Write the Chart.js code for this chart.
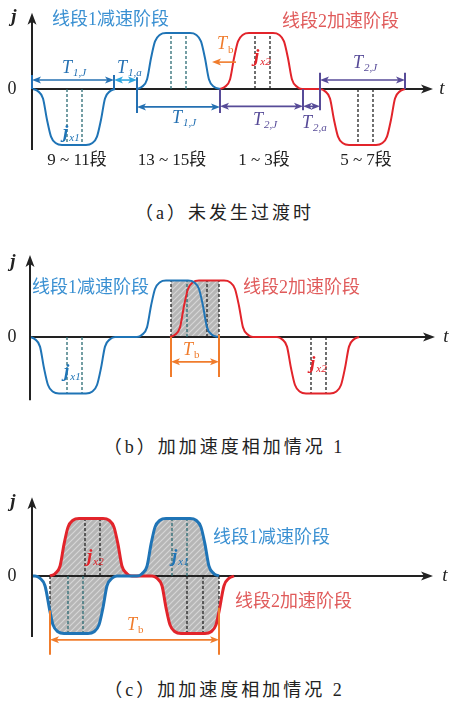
<!DOCTYPE html>
<html>
<head>
<meta charset="utf-8">
<script src="https://cdn.jsdelivr.net/npm/chart.js@4"></script>
<style>
  body { margin: 0; background: #fff; width: 449px; height: 709px; position: relative; overflow: hidden; }
  canvas { position: absolute; left: 0; }
  .caption { position: absolute; left: 0; width: 449px; text-align: center; font: 18px "Liberation Serif", "Noto Sans CJK SC"; letter-spacing: 3px; line-height: 20px; color: #222; }
</style>
</head>
<body>
<canvas id="chartA" width="449" height="180" style="top:0"></canvas>
<div class="caption" style="top:203px">（a）未发生过渡时</div>
<canvas id="chartB" width="449" height="180" style="top:240px"></canvas>
<div class="caption" style="top:437px">（b）加加速度相加情况 1</div>
<canvas id="chartC" width="449" height="180" style="top:480px"></canvas>
<div class="caption" style="top:680px">（c）加加速度相加情况 2</div>

<script>
// jerk profiles, [t, j] pairs, j normalised to the peak jerk

// (a) no transition
const blueA = [
  [1, 0], [6, -0.04], [11, -0.17], [15, -0.55], [19, -0.85], [24, -0.97], [30, -1],
  [54, -1], [60, -0.97], [65, -0.85], [69, -0.55], [73, -0.17], [78, -0.04], [83, 0],
  [94, null],
  [105, 0], [110, 0.04], [115, 0.17], [119, 0.55], [123, 0.85], [128, 0.97], [134, 1],
  [158, 1], [164, 0.97], [169, 0.85], [173, 0.55], [177, 0.17], [182, 0.04], [188, 0]
];
const redA = [
  [188, 0], [193, 0.04], [198, 0.17], [202, 0.55], [206, 0.85], [211, 0.97], [217, 1],
  [241, 1], [247, 0.97], [252, 0.85], [256, 0.55], [260, 0.17], [265, 0.04], [270, 0],
  [288, 0], [293, -0.04], [298, -0.17], [302, -0.55], [306, -0.85], [311, -0.97], [317, -1],
  [344, -1], [350, -0.97], [355, -0.85], [359, -0.55], [363, -0.17], [368, -0.04], [373, 0]
];
const dashBlueA = [[35, -1], [50, -1], [139, 1], [154, 1]];
const dashRedA = [[223, 1], [238, 1], [326, -1], [341, -1]];

// (b) jerk superposition, case 1
const blueB = [
  [0, 0], [5, -0.04], [10, -0.17], [14, -0.55], [18, -0.85], [23, -0.97], [29, -1],
  [56, -1], [62, -0.97], [67, -0.85], [71, -0.55], [75, -0.17], [80, -0.04], [85, 0],
  [107, 0], [112, 0.04], [117, 0.17], [121, 0.55], [125, 0.85], [130, 0.97], [136, 1],
  [158, 1], [164, 0.97], [169, 0.85], [173, 0.55], [177, 0.17], [182, 0.04], [188, 0]
];
const redB = [
  [140, 0], [145, 0.04], [150, 0.17], [154, 0.55], [158, 0.85], [163, 0.97], [169, 1],
  [194, 1], [200, 0.97], [205, 0.85], [209, 0.55], [213, 0.17], [218, 0.04], [223, 0],
  [247, 0], [252, -0.04], [257, -0.17], [261, -0.55], [265, -0.85], [270, -0.97], [276, -1],
  [300, -1], [306, -0.97], [311, -0.85], [315, -0.55], [319, -0.17], [324, -0.04], [329, 0]
];
const shadeB = [[141, 1], [189, 1]];
const dashBlueB = [[37, -1], [52, -1], [157, 1]];
const dashRedB = [[141, 1], [177, 1], [189, 1], [281, -1], [296, -1]];

// (c) jerk superposition, case 2
const blueC = [
  [0, 0], [3, 0], [8, -0.04], [13, -0.17], [18, -0.62], [21, -0.85], [26, -0.97], [32, -1],
  [56, -1], [62, -0.97], [67, -0.85], [71, -0.55], [75, -0.17], [80, -0.04], [85, 0],
  [105, 0], [110, 0.04], [115, 0.17], [119, 0.55], [123, 0.85], [128, 0.97], [134, 1],
  [158, 1], [164, 0.97], [169, 0.85], [173, 0.55], [177, 0.17], [182, 0.04], [187, 0]
];
const redC = [
  [18, 0], [23, 0.04], [28, 0.17], [32, 0.55], [36, 0.85], [41, 0.97], [47, 1],
  [71, 1], [77, 0.97], [82, 0.85], [86, 0.55], [90, 0.17], [95, 0.04], [100, 0],
  [120, 0], [125, -0.04], [130, -0.17], [134, -0.55], [138, -0.85], [143, -0.97], [149, -1],
  [173, -1], [179, -0.97], [184, -0.85], [187, -0.62], [192, -0.17], [197, -0.04], [202, 0]
];
const shadeRangeC = [18, 187];
const dashBlueC = [[36, -1], [51, -1], [140, 1], [155, 1]];
const dashRedC = [[53, 1], [68, 1], [155, -1], [171, -1], [18, -0.62], [187, -0.62]];

const BLUE = '#1f74b6';
const RED = '#e2242b';
const BLUE_TXT = '#3a90d2';
const RED_TXT = '#e05b5b';
const BLUE_DIM = '#2470b2';
const CYAN = '#2fa6df';
const PURPLE = '#574b98';
const ORANGE = '#f07c2c';
const TEAL_DASH = '#2a6b73';
const DARK_DASH = '#222';
const SERIF = '"Liberation Serif", "Noto Sans CJK SC"';

// grey fill with light diagonal hatching
function hatch() {
  const c = document.createElement('canvas');
  c.width = 6; c.height = 6;
  const g = c.getContext('2d');
  g.fillStyle = '#b6b6b6';
  g.fillRect(0, 0, 6, 6);
  g.strokeStyle = '#d6d6d6';
  g.lineWidth = 1.2;
  g.beginPath();
  g.moveTo(0, 6); g.lineTo(6, 0);
  g.moveTo(-3, 3); g.lineTo(3, -3);
  g.moveTo(3, 9); g.lineTo(9, 3);
  g.stroke();
  return g.createPattern(c, 'repeat');
}

function lineSet(points, color, width) {
  return {
    data: points.map(p => ({ x: p[0], y: p[1] })),
    borderColor: color, borderWidth: width,
    pointRadius: 0, fill: false,
    cubicInterpolationMode: 'monotone', order: 0
  };
}

function dashSets(list, color) {
  return list.map(d => ({
    data: [{ x: d[0], y: 0 }, { x: d[0], y: d[1] }],
    borderColor: color, borderWidth: 1.3, borderDash: [3, 2],
    pointRadius: 0, fill: false, tension: 0, order: 1
  }));
}

function axisSet(end) {
  return {
    data: [{ x: 0, y: 0 }, { x: end, y: 0 }],
    borderColor: '#222', borderWidth: 1.8,
    pointRadius: 0, fill: false, tension: 0, order: 2
  };
}

function head(ctx, tx, ty, dx, dy, len, half, color) {
  const bx = tx - dx * len, by = ty - dy * len;
  const nx = -dy, ny = dx;
  ctx.fillStyle = color;
  ctx.beginPath();
  ctx.moveTo(tx, ty);
  ctx.lineTo(bx + nx * half, by + ny * half);
  ctx.lineTo(tx - dx * len * 0.75, ty - dy * len * 0.75);
  ctx.lineTo(bx - nx * half, by - ny * half);
  ctx.closePath();
  ctx.fill();
}

// axes, dimension arrows and labels drawn over the plotted curves
function overlay(spec) {
  return {
    id: 'overlay',
    afterDatasetsDraw(chart) {
      const { ctx, scales: { x, y } } = chart;
      const X = v => x.getPixelForValue(v);
      const Y = v => y.getPixelForValue(v);
      ctx.save();

      // y axis
      ctx.strokeStyle = '#222';
      ctx.lineWidth = 2;
      ctx.beginPath();
      ctx.moveTo(X(0), Y(spec.yAxis[0]));
      ctx.lineTo(X(0), Y(spec.yAxis[1]) + 8);
      ctx.stroke();
      head(ctx, X(0), Y(spec.yAxis[1]), 0, -1, 12, 4.5, '#222');
      // x axis arrow
      head(ctx, X(spec.xTip), Y(0), 1, 0, 12, 4.5, '#222');

      ctx.fillStyle = '#222';
      ctx.textBaseline = 'middle';
      ctx.textAlign = 'center';
      ctx.font = 'bold italic 19px "Liberation Serif"';
      ctx.fillText('j', X(spec.jLabel[0]), Y(spec.jLabel[1]));
      ctx.font = '18px "Liberation Serif"';
      ctx.fillText('0', X(spec.zeroLabel), Y(0));
      ctx.font = 'italic 19px "Liberation Serif"';
      ctx.fillText('t', X(spec.tLabel), Y(0));

      // vertical bars of the dimension lines
      ctx.lineWidth = 2;
      (spec.bars || []).forEach(b => {
        ctx.strokeStyle = b.color;
        ctx.beginPath();
        ctx.moveTo(X(b.x), Y(b.y0));
        ctx.lineTo(X(b.x), Y(b.y1));
        ctx.stroke();
      });

      // dimension arrows
      (spec.dims || []).forEach(d => {
        const yy = Y(d.y), x1 = X(d.from), x2 = X(d.to);
        const dir = x2 > x1 ? 1 : -1;
        ctx.strokeStyle = d.color;
        ctx.lineWidth = 1.6;
        ctx.beginPath();
        ctx.moveTo(x1 + (d.single ? 0 : dir * 4), yy);
        ctx.lineTo(x2 - dir * 4, yy);
        ctx.stroke();
        head(ctx, x2, yy, dir, 0, 9, 3.5, d.color);
        if (!d.single) head(ctx, x1, yy, -dir, 0, 9, 3.5, d.color);
      });

      // plain texts
      (spec.texts || []).forEach(t => {
        ctx.fillStyle = t.color;
        ctx.textAlign = t.align || 'left';
        ctx.font = t.font;
        ctx.fillText(t.text, X(t.x), Y(t.y));
      });

      // symbols with subscripts
      ctx.textAlign = 'left';
      (spec.subs || []).forEach(s => {
        const x0 = X(s.x), y0 = Y(s.y);
        ctx.fillStyle = s.color;
        ctx.font = s.main === 'j' ? 'bold italic 19px "Liberation Serif"' : 'italic 18px "Liberation Serif"';
        ctx.fillText(s.main, x0, y0);
        const w = ctx.measureText(s.main).width;
        ctx.font = s.sub === 'b' ? '11px "Liberation Serif"' : 'italic 11px "Liberation Serif"';
        ctx.fillText(s.sub, x0 + w + 1, y0 + 5);
      });

      ctx.restore();
    }
  };
}

function options(pad) {
  return {
    responsive: false,
    animation: false,
    events: [],
    layout: { padding: pad },
    scales: {
      x: { type: 'linear', min: 0, max: 400, display: false },
      y: { type: 'linear', min: -1.4, max: 1.4, display: false }
    },
    plugins: { legend: { display: false }, tooltip: { enabled: false } }
  };
}

const titleFont = '18px ' + SERIF;
const segFont = '17px ' + SERIF;

// ---------- (a) ----------
new Chart(document.getElementById('chartA'), {
  type: 'line',
  data: {
    datasets: [
      lineSet(blueA, BLUE, 2),
      lineSet(redA, RED, 2),
      ...dashSets(dashBlueA, TEAL_DASH),
      ...dashSets(dashRedA, DARK_DASH),
      axisSet(395)
    ]
  },
  options: options({ left: 32, right: 17, top: 10.6, bottom: 12.6 }),
  plugins: [overlay({
    yAxis: [-1.09, 1.36], xTip: 401, jLabel: [-18, 1.29], zeroLabel: -20, tLabel: 410,
    bars: [
      { x: 0, y0: 0, y1: 0.25, color: BLUE_DIM },
      { x: 82, y0: 0, y1: 0.25, color: BLUE_DIM },
      { x: 105, y0: 0.21, y1: -0.43, color: BLUE_DIM },
      { x: 188, y0: 0, y1: -0.43, color: PURPLE },
      { x: 271, y0: 0, y1: -0.38, color: PURPLE },
      { x: 288, y0: 0.29, y1: -0.38, color: PURPLE },
      { x: 373, y0: 0, y1: 0.29, color: PURPLE }
    ],
    dims: [
      { from: 0, to: 82, y: 0.16, color: BLUE_DIM },
      { from: 82, to: 105, y: 0.16, color: CYAN },
      { from: 105, to: 188, y: -0.32, color: BLUE_DIM },
      { from: 188, to: 271, y: -0.31, color: PURPLE },
      { from: 271, to: 288, y: -0.31, color: PURPLE },
      { from: 288, to: 373, y: 0.16, color: PURPLE },
      { from: 204, to: 180, y: 0.48, color: ORANGE, single: true }
    ],
    texts: [
      { text: '线段1减速阶段', x: 20, y: 1.23, color: BLUE_TXT, font: titleFont },
      { text: '线段2加速阶段', x: 250, y: 1.2, color: RED_TXT, font: titleFont },
      { text: '9 ~ 11段', x: 45, y: -1.27, color: '#222', font: segFont, align: 'center' },
      { text: '13 ~ 15段', x: 140, y: -1.27, color: '#222', font: segFont, align: 'center' },
      { text: '1 ~ 3段', x: 232, y: -1.27, color: '#222', font: segFont, align: 'center' },
      { text: '5 ~ 7段', x: 334, y: -1.27, color: '#222', font: segFont, align: 'center' }
    ],
    subs: [
      { main: 'T', sub: '1,J', x: 30, y: 0.375, color: BLUE_DIM },
      { main: 'T', sub: '1,a', x: 85, y: 0.375, color: BLUE_DIM },
      { main: 'T', sub: '1,J', x: 140, y: -0.52, color: BLUE_DIM },
      { main: 'T', sub: '2,J', x: 221, y: -0.55, color: PURPLE },
      { main: 'T', sub: '2,a', x: 270, y: -0.61, color: PURPLE },
      { main: 'T', sub: '2,J', x: 321, y: 0.46, color: PURPLE },
      { main: 'T', sub: 'b', x: 185, y: 0.79, color: ORANGE },
      { main: 'j', sub: 'x1', x: 31, y: -0.79, color: BLUE },
      { main: 'j', sub: 'x2', x: 222, y: 0.57, color: RED }
    ]
  })]
});

// ---------- (b) ----------
new Chart(document.getElementById('chartB'), {
  type: 'line',
  data: {
    datasets: [
      {
        data: shadeB.map(p => ({ x: p[0], y: p[1] })),
        borderColor: 'transparent', borderWidth: 0, pointRadius: 0,
        backgroundColor: hatch(), fill: 'origin', tension: 0, order: 3
      },
      lineSet(blueB, BLUE, 2),
      lineSet(redB, RED, 2),
      ...dashSets(dashBlueB, TEAL_DASH),
      ...dashSets(dashRedB, DARK_DASH),
      axisSet(399)
    ]
  },
  options: options({ left: 30, right: 19, top: 17.9, bottom: 3.9 }),
  plugins: [overlay({
    yAxis: [-1.12, 1.45], xTip: 405, jLabel: [-17, 1.33], zeroLabel: -18, tLabel: 416,
    bars: [
      { x: 141, y0: 0, y1: -0.71, color: ORANGE },
      { x: 189, y0: 0.04, y1: -0.71, color: ORANGE }
    ],
    dims: [
      { from: 141, to: 189, y: -0.44, color: ORANGE }
    ],
    texts: [
      { text: '线段1减速阶段', x: 2, y: 0.87, color: BLUE_TXT, font: titleFont },
      { text: '线段2加速阶段', x: 213, y: 0.87, color: RED_TXT, font: titleFont }
    ],
    subs: [
      { main: 'T', sub: 'b', x: 153, y: -0.23, color: ORANGE },
      { main: 'j', sub: 'x1', x: 34, y: -0.62, color: BLUE },
      { main: 'j', sub: 'x2', x: 280, y: -0.48, color: RED }
    ]
  })]
});

// ---------- (c) ----------
const inRangeC = p => p[0] >= shadeRangeC[0] && p[0] <= shadeRangeC[1];
new Chart(document.getElementById('chartC'), {
  type: 'line',
  data: {
    datasets: [
      {
        data: blueC.filter(inRangeC).map(p => ({ x: p[0], y: p[1] })),
        borderColor: 'transparent', borderWidth: 0, pointRadius: 0,
        backgroundColor: hatch(), fill: 1,
        cubicInterpolationMode: 'monotone', order: 3
      },
      {
        data: redC.filter(inRangeC).map(p => ({ x: p[0], y: p[1] })),
        borderColor: 'transparent', borderWidth: 0, pointRadius: 0,
        fill: false, cubicInterpolationMode: 'monotone', order: 3
      },
      lineSet(blueC, BLUE, 3),
      lineSet(redC, RED, 3),
      ...dashSets(dashBlueC, TEAL_DASH),
      ...dashSets(dashRedC, DARK_DASH),
      axisSet(395)
    ]
  },
  options: options({ left: 32, right: 17, top: 15.5, bottom: 3.5 }),
  plugins: [overlay({
    yAxis: [-1.06, 1.37], xTip: 401, jLabel: [-19, 1.29], zeroLabel: -20, tLabel: 413,
    bars: [
      { x: 18, y0: -0.6, y1: -1.37, color: ORANGE },
      { x: 187, y0: -0.55, y1: -1.37, color: ORANGE }
    ],
    dims: [
      { from: 18, to: 187, y: -1.11, color: ORANGE }
    ],
    texts: [
      { text: '线段1减速阶段', x: 181, y: 0.66, color: BLUE_TXT, font: titleFont },
      { text: '线段2加速阶段', x: 203, y: -0.45, color: RED_TXT, font: titleFont }
    ],
    subs: [
      { main: 'T', sub: 'b', x: 95, y: -0.85, color: ORANGE },
      { main: 'j', sub: 'x2', x: 55, y: 0.33, color: RED },
      { main: 'j', sub: 'x1', x: 140, y: 0.33, color: BLUE }
    ]
  })]
});
</script>
</body>
</html>
